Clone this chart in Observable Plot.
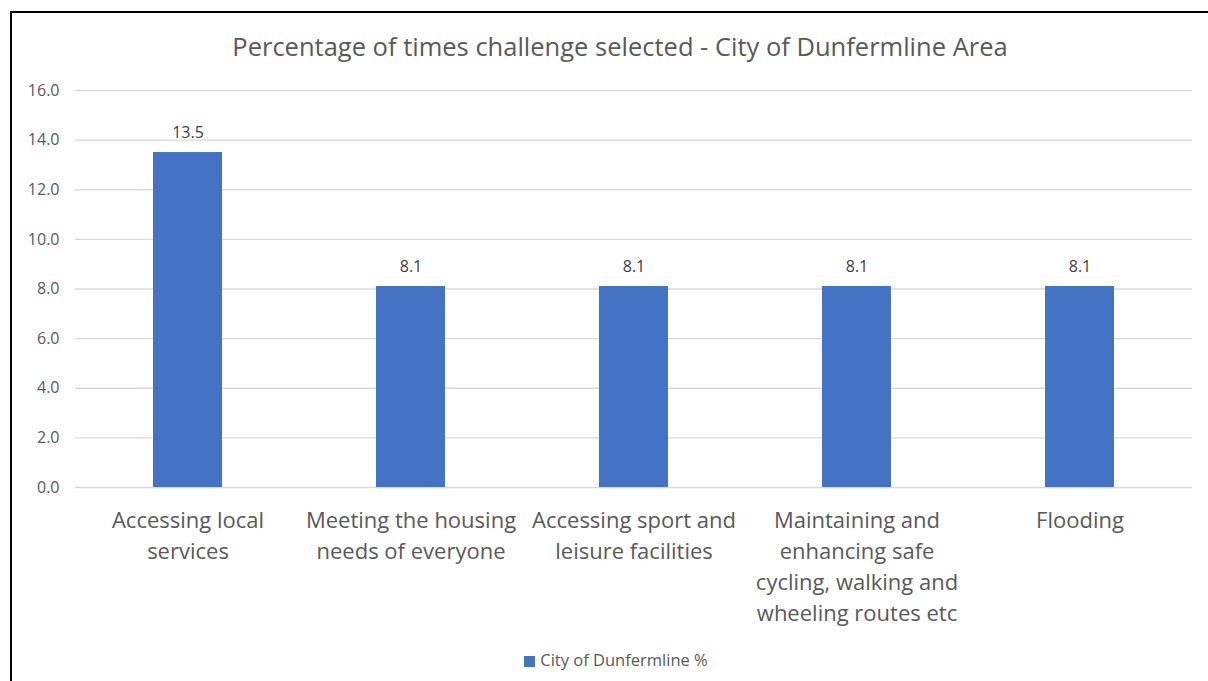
<!DOCTYPE html>
<html><head><meta charset="utf-8">
<script src="https://cdn.jsdelivr.net/npm/d3@7"></script>
<script src="https://cdn.jsdelivr.net/npm/@observablehq/plot@0.6"></script>
<style>
body{margin:0;background:#fff;}
#wrap{position:relative;width:1208px;height:681px;overflow:hidden;background:#fff;font-family:"Open Sans",sans-serif;}
#frame{position:absolute;left:10px;top:11px;width:1300px;height:800px;border-left:2px solid #000;border-top:2px solid #000;}
#title{position:absolute;left:0;width:1240px;top:29px;text-align:center;font-size:25.5px;color:#595959;}
#plot{position:absolute;left:0;top:0;}
#legend{position:absolute;left:0;width:1232px;top:648px;text-align:center;font-size:16.5px;color:#595959;}
#legend span.sw{display:inline-block;width:11px;height:11px;background:#4472c4;margin-right:5px;vertical-align:-1px;}
</style></head>
<body><div id="wrap"><div id="frame"></div><div id="plot"></div>
<div id="title">Percentage of times challenge selected - City of Dunfermline Area</div>
<div id="legend"><span class="sw"></span>City of Dunfermline %</div></div>
<script>
const categories = ["Accessing local services","Meeting the housing needs of everyone","Accessing sport and leisure facilities","Maintaining and enhancing safe cycling, walking and wheeling routes etc","Flooding"];
const tickLabels = ["Accessing local\nservices","Meeting the housing\nneeds of everyone","Accessing sport and\nleisure facilities","Maintaining and\nenhancing safe\ncycling, walking and\nwheeling routes etc","Flooding"];
const values = [13.5, 8.1, 8.1, 8.1, 8.1];
const yTicks = [0,2,4,6,8,10,12,14,16];
const data = categories.map((c,i)=>({category:c, value:values[i]}));
const labelOf = new Map(categories.map((c,i)=>[c,tickLabels[i]]));
const chart = Plot.plot({
  width:1208, height:681,
  marginLeft:75, marginRight:16, marginTop:90, marginBottom:194,
  style:{fontFamily:"Open Sans, sans-serif", background:"transparent", overflow:"visible"},
  x:{domain:categories, paddingInner:0.69, paddingOuter:0.345, label:null},
  y:{domain:[0,16], label:null},
  marks:[
    Plot.ruleY(yTicks,{stroke:"#d9d9d9", strokeWidth:1.3}),
    Plot.barY(data,{x:"category", y:"value", fill:"#4472c4"}),
    Plot.text(data,{x:"category", y:"value", text:d=>d.value.toFixed(1), dy:-20, fontSize:16, fill:"#404040"}),
    Plot.axisY({ticks:yTicks, tickFormat:d=>d.toFixed(1), tickSize:0, tickPadding:16, fontSize:16, color:"#595959", label:null}),
    Plot.axisX({tickFormat:d=>labelOf.get(d), tickSize:0, tickPadding:18, fontSize:22, lineHeight:1.41, color:"#595959", label:null})
  ]
});
document.getElementById("plot").appendChild(chart);
</script></body></html>
